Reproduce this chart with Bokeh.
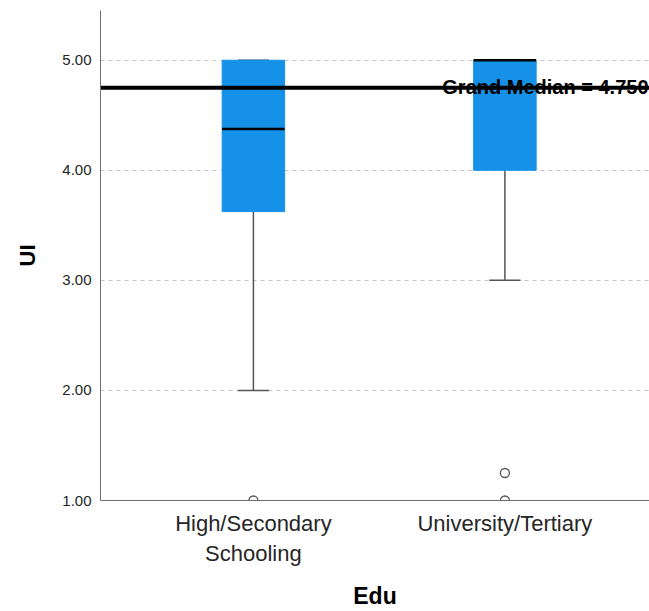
from bokeh.plotting import figure
from bokeh.models import Range1d, FixedTicker, NumeralTickFormatter
from bokeh.core.properties import value
from bokeh.embed import file_html
from bokeh.resources import INLINE

# ---- data ----
categories = ["High/Secondary\nSchooling", "University/Tertiary"]
q1 = [3.625, 4.00]
medians = [4.375, 5.00]
q3 = [5.00, 5.00]
whisker_low = [2.00, 3.00]
whisker_high = [5.00, 5.00]
outlier_cat = [0, 1, 1]
outlier_val = [1.00, 1.25, 1.00]
grand_median = 4.75
y_ticks = [1.0, 2.0, 3.0, 4.0, 5.0]

x_pos = list(range(len(categories)))
box_w = 0.2485
cap_w = box_w / 2
X0, X1 = -0.608, 1.575

BLUE = "#1591E8"
FONT = "Liberation Sans"

p = figure(width=649, height=611, output_backend="svg", toolbar_location=None,
           x_range=Range1d(X0, X1), y_range=Range1d(1.0, 5.452),
           min_border_left=100, min_border_top=10, min_border_right=0, min_border_bottom=90)
p.outline_line_color = None
p.background_fill_color = "white"
p.border_fill_color = "white"

# grid
p.xgrid.visible = False
p.ygrid.ticker = FixedTicker(ticks=y_ticks)
p.ygrid.grid_line_color = "#c4c4c4"
p.ygrid.grid_line_dash = "4 4"
p.ygrid.grid_line_width = 1

# axes
p.yaxis.ticker = FixedTicker(ticks=y_ticks)
p.yaxis.formatter = NumeralTickFormatter(format="0.00")
p.xaxis.ticker = FixedTicker(ticks=x_pos)
p.xaxis.major_label_overrides = {i: c for i, c in enumerate(categories)}
for ax in (p.xaxis, p.yaxis):
    ax.axis_line_color = "#6e6e6e"
    ax.axis_line_width = 1
    ax.major_tick_line_color = None
    ax.minor_tick_line_color = None
    ax.major_label_text_color = "#262626"
    ax.major_label_text_font = FONT
    ax.axis_label_text_font = FONT
    ax.axis_label_text_font_style = "bold"
    ax.axis_label_text_color = "black"

p.yaxis.major_label_text_font_size = "15px"
p.yaxis.major_label_standoff = 3
p.yaxis.axis_label = "UI"
p.yaxis.axis_label_text_font_size = "22px"
p.yaxis.axis_label_standoff = 19

p.xaxis.major_label_text_font_size = "22px"
p.xaxis.major_label_standoff = 4
p.xaxis.axis_label = "Edu"
p.xaxis.axis_label_text_font_size = "23px"
p.xaxis.axis_label_standoff = 14

# whiskers
p.segment(x0=x_pos, y0=whisker_low, x1=x_pos, y1=q1, line_color="#555555", line_width=1.5)
p.segment(x0=x_pos, y0=q3, x1=x_pos, y1=whisker_high, line_color="#555555", line_width=1.5)
p.segment(x0=[x - cap_w / 2 for x in x_pos], y0=whisker_low,
          x1=[x + cap_w / 2 for x in x_pos], y1=whisker_low, line_color="#555555", line_width=1.5)
p.segment(x0=[x - cap_w / 2 for x in x_pos], y0=whisker_high,
          x1=[x + cap_w / 2 for x in x_pos], y1=whisker_high, line_color="#555555", line_width=1.5)

# boxes
p.vbar(x=x_pos, width=box_w, bottom=q1, top=q3, fill_color=BLUE, line_color=BLUE, line_width=1)

# medians
p.segment(x0=[x - box_w / 2 for x in x_pos], y0=medians,
          x1=[x + box_w / 2 for x in x_pos], y1=medians, line_color="black", line_width=2.5)

# outliers
p.scatter(x=outlier_cat, y=outlier_val, size=9, marker="circle",
          fill_color="white", line_color="#555555", line_width=1.3)

# grand median
p.segment(x0=[X0], y0=[grand_median], x1=[X1], y1=[grand_median],
          line_color="black", line_width=4)
p.text(x=[X1], y=[grand_median], text=["Grand Median = %.3f" % grand_median],
       text_align="right", text_baseline="alphabetic", x_offset=-1, y_offset=-1,
       text_font=value(FONT), text_font_style="bold", text_font_size="20px", text_color="black")

open("out.html", "w").write(file_html(p, INLINE))
